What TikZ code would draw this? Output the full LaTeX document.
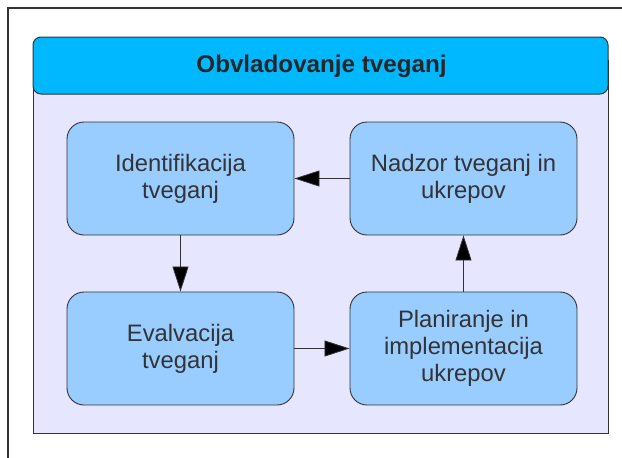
\documentclass[tikz,border=0pt]{standalone}
\usepackage{fontspec}
\setmainfont{Liberation Sans}
\usetikzlibrary{arrows.meta}
\definecolor{headcyan}{HTML}{00B8FF}
\definecolor{panel}{HTML}{E6E6FF}
\definecolor{stepfill}{HTML}{99CCFF}
\definecolor{ink}{HTML}{333333}
\tikzset{
  stepbox/.style={draw=ink, line width=0.9pt, fill=stepfill, rounded corners=17pt,
    minimum width=227pt, minimum height=113pt, align=center, text=ink,
    font=\fontsize{23.8}{27}\selectfont, inner sep=0pt},
  flow/.style={draw=ink, line width=0.8pt,
    -{Triangle[length=25pt,width=16pt,fill=black]}}
}
\begin{document}
\begin{tikzpicture}[x=1pt, y=-1pt]
\useasboundingbox (0,0) rectangle (622,458);
\fill[white] (0,0) rectangle (622,458);
% page frame (top and left edges)
\draw[ink, line width=1.3pt] (622,8) -- (8,8) -- (8,458);
% panel body and its title bar
\draw[ink, line width=1pt, fill=panel] (33,60) rectangle (608,433);
\draw[ink, line width=1pt, fill=headcyan, rounded corners=8pt] (33,37) rectangle (608,94);
\node[font=\bfseries\fontsize{24.2}{27}\selectfont, text=black!85] (title) at (321.5,66) {Obvladovanje tveganj};
% process steps
\node[stepbox] (ident) at (180.5,178.5) {Identifikacija\\tveganj};
\node[stepbox] (nadzor) at (463.5,178.5) {Nadzor tveganj in\\ukrepov};
\node[stepbox] (eval) at (180.5,348.5) {Evalvacija\\tveganj};
\node[stepbox] (plan) at (463.5,348.5) {Planiranje in\\implementacija\\ukrepov};
% cycle
\draw[flow] (nadzor) -- (ident);
\draw[flow] (ident) -- (eval);
\draw[flow] (eval) -- (plan);
\draw[flow] (plan) -- (nadzor);
\end{tikzpicture}
\end{document}
